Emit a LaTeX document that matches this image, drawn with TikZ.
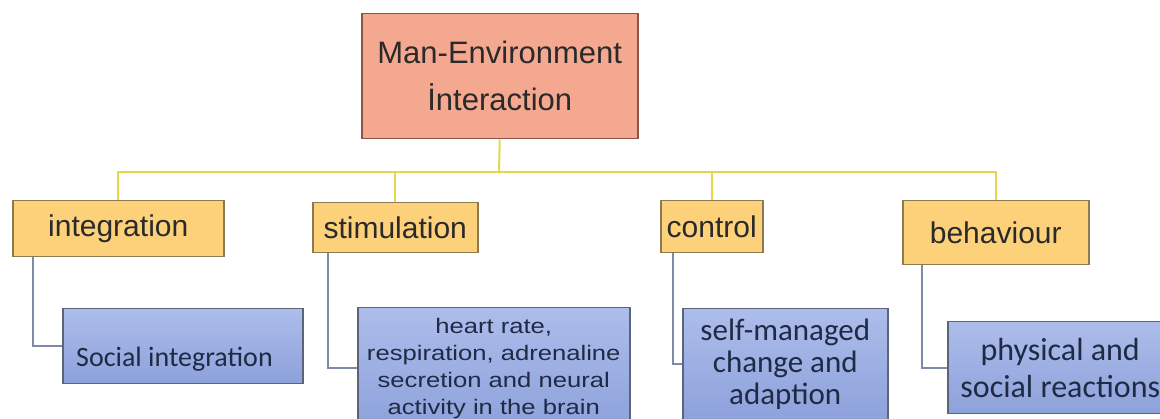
\documentclass[tikz,border=0pt]{standalone}
\usepackage{fontspec}
\setmainfont{Liberation Sans}
\newfontfamily\cali{Carlito}
\newfontfamily\widesans[FakeStretch=1.22]{Liberation Sans}
\definecolor{topfill}{HTML}{F5A890}
\definecolor{topline}{HTML}{8A5446}
\definecolor{midfill}{HTML}{FCD17A}
\definecolor{midline}{HTML}{8C7A52}
\definecolor{lowtop}{HTML}{ADBDEB}
\definecolor{lowbot}{HTML}{8DA1DB}
\definecolor{lowline}{HTML}{5C6478}
\definecolor{yline}{HTML}{E6D64C}
\definecolor{bline}{HTML}{7D8BA6}
\definecolor{txt}{HTML}{2A2A2A}
\definecolor{lowtxt}{HTML}{1F2A44}
\begin{document}
\begin{tikzpicture}[x=1pt,y=-1pt,
  topbox/.style={draw=topline,fill=topfill,line width=1.5pt,inner sep=0pt,align=center,text=txt,
    font=\fontsize{31}{47}\selectfont},
  midbox/.style={draw=midline,fill=midfill,line width=1.5pt,inner sep=0pt,text=txt,anchor=north west,
    font=\fontsize{30}{36}\selectfont},
  lowbox/.style={draw=lowline,top color=lowtop,bottom color=lowbot,line width=1.5pt,inner sep=0pt,
    align=center,text=lowtxt,anchor=north west},
  yl/.style={draw=yline,line width=2pt},
  bl/.style={draw=bline,line width=2pt}]

\useasboundingbox (0,0) rectangle (1160,419);

\node[topbox,anchor=north west,minimum width=276,minimum height=125] (man) at (361,13) {Man-Environment\\İnteraction};

\begin{scope}[every node/.append style={midbox}]
\node[minimum width=211,minimum height=56] (integ) at (12,200) {integration};
\node[minimum width=165,minimum height=50] (stim) at (312,202) {stimulation};
\node[minimum width=102,minimum height=52] (ctrl) at (660,200) {control};
\node[minimum width=186,minimum height=64] (behav) at (902,200) {behaviour};
\end{scope}

\begin{scope}[every node/.append style={lowbox}]
\node[minimum width=240,minimum height=75] (social) at (62,308) {};
\node[minimum width=272,minimum height=121,font=\widesans\fontsize{21}{27}\selectfont] (stimd) at (357,307)
  {heart rate,\\respiration, adrenaline\\secretion and neural\\activity in the brain};
\node[minimum width=205,minimum height=111,font=\cali\fontsize{31}{32}\selectfont] (ctrld) at (682,308)
  {self-managed\\change and\\adaption};
\node[minimum width=225,minimum height=92,font=\cali\fontsize{32}{37}\selectfont] (behavd) at (947,321)
  {physical and\\social reactions};
\end{scope}
\node[anchor=base west,inner sep=0pt,text=lowtxt,font=\cali\fontsize{28}{34}\selectfont] (socialtext) at (76,367) {Social integration};

\coordinate (bus) at (499,172);
\begin{scope}[yl]
\draw (man.south) -- (bus);
\draw (bus) -| (integ.north);
\draw (bus) -| (stim.north);
\draw (bus) -| (ctrl.north);
\draw (bus) -| (behav.north);
\end{scope}

\begin{scope}[bl]
\draw ([xshift=21]integ.south west) |- (social.west);
\draw ([xshift=16]stim.south west) |- (stimd.west);
\draw ([xshift=13]ctrl.south west) |- (ctrld.west);
\draw ([xshift=20]behav.south west) |- (behavd.west);
\end{scope}

\end{tikzpicture}
\end{document}
